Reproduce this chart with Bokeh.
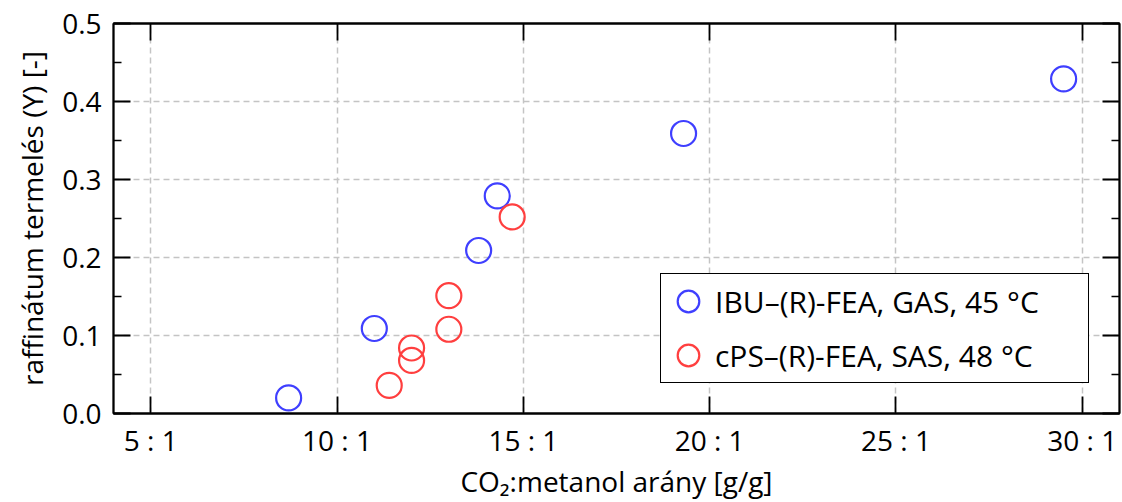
from bokeh.plotting import figure
from bokeh.models import (LinearAxis, FixedTicker, Range1d, Legend, LegendItem,
                          NumeralTickFormatter)
from bokeh.embed import file_html
from bokeh.resources import INLINE

# ---- data ----
ibu_x = [8.7, 11.0, 13.8, 14.3, 19.3, 29.5]
ibu_y = [0.02, 0.109, 0.209, 0.279, 0.359, 0.429]
cps_x = [11.4, 12.0, 12.0, 13.0, 13.0, 14.7]
cps_y = [0.036, 0.068, 0.084, 0.108, 0.151, 0.252]

x_ticks = [5, 10, 15, 20, 25, 30]
x_tick_labels = ["5 : 1", "10 : 1", "15 : 1", "20 : 1", "25 : 1", "30 : 1"]
y_ticks = [0.0, 0.1, 0.2, 0.3, 0.4, 0.5]
y_minor = [0.05, 0.15, 0.25, 0.35, 0.45]

series_labels = ["IBU–(R)-FEA, GAS, 45 °C", "cPS–(R)-FEA, SAS, 48 °C"]
x_label = "CO₂:metanol arány [g/g]"
y_label = "raffinátum termelés (Y) [-]"

FONT = "Open Sans"
FS_TICK = "28px"
FS_XLAB = "28px"
FS_YLAB = "28px"
FS_LEG = "30px"
BLUE = "#3f3fff"
RED = "#ff3f3f"

p = figure(frame_width=1006, frame_height=390, output_backend="svg",
           toolbar_location=None, x_range=Range1d(4, 31), y_range=Range1d(0, 0.5),
           min_border_left=113, min_border_right=3, min_border_top=23,
           min_border_bottom=89)
p.outline_line_color = "black"
p.outline_line_width = 1.8

# grid
for g in (p.xgrid, p.ygrid):
    g.grid_line_color = "#c4c4c4"
    g.grid_line_dash = "6 4"
    g.grid_line_width = 1.5
p.xgrid.ticker = FixedTicker(ticks=x_ticks)
p.ygrid.ticker = FixedTicker(ticks=y_ticks)

def style_axis(ax, show_labels=True, lab_size=FS_TICK):
    ax.axis_line_color = "black"
    ax.axis_line_width = 1.8
    ax.major_tick_in = 17
    ax.major_tick_out = 0
    ax.minor_tick_in = 8
    ax.minor_tick_out = 0
    ax.major_tick_line_width = 1.8
    ax.minor_tick_line_width = 1.5
    ax.major_label_text_font = FONT
    ax.major_label_text_font_size = FS_TICK if show_labels else "1px"
    ax.major_label_text_color = "black"
    ax.axis_label_text_font = FONT
    ax.axis_label_text_font_size = lab_size
    ax.axis_label_text_font_style = "normal"
    ax.axis_label_text_color = "black"
    if not show_labels:
        ax.major_label_standoff = 0

xa = p.xaxis[0]
xa.ticker = FixedTicker(ticks=x_ticks)
xa.major_label_overrides = {t: l for t, l in zip(x_ticks, x_tick_labels)}
style_axis(xa, lab_size=FS_XLAB)
xa.major_label_standoff = 7
xa.axis_label = x_label
xa.axis_label_standoff = 0

ya = p.yaxis[0]
ya.ticker = FixedTicker(ticks=y_ticks, minor_ticks=y_minor)
ya.formatter = NumeralTickFormatter(format="0.0")
style_axis(ya, lab_size=FS_YLAB)
ya.major_label_standoff = 12
ya.axis_label = y_label
ya.axis_label_standoff = 8

top = LinearAxis(ticker=FixedTicker(ticks=x_ticks))
top.major_label_overrides = {t: "" for t in x_ticks}
style_axis(top, show_labels=False)
p.add_layout(top, "above")
right = LinearAxis(ticker=FixedTicker(ticks=y_ticks, minor_ticks=y_minor))
right.major_label_overrides = {t: "" for t in y_ticks}
style_axis(right, show_labels=False)
p.add_layout(right, "right")

r1 = p.scatter(ibu_x, ibu_y, marker="circle", size=25, fill_color=None,
               line_color=BLUE, line_width=2.2)
r2 = p.scatter(cps_x, cps_y, marker="circle", size=25, fill_color=None,
               line_color=RED, line_width=2.2)

legend = Legend(items=[LegendItem(label=series_labels[0], renderers=[r1]),
                       LegendItem(label=series_labels[1], renderers=[r2])],
                location="bottom_right")
legend.margin = 30
legend.padding = 0
legend.spacing = 0
legend.label_height = 54
legend.glyph_height = 54
legend.glyph_width = 54
legend.label_standoff = 0
legend.label_width = 373
legend.label_text_font = FONT
legend.label_text_font_size = FS_LEG
legend.label_text_color = "black"
legend.border_line_color = "black"
legend.border_line_alpha = 1.0
legend.border_line_width = 1.5
legend.background_fill_color = "white"
legend.background_fill_alpha = 1.0
p.add_layout(legend, "center")

open("out.html", "w").write(file_html(p, INLINE))
